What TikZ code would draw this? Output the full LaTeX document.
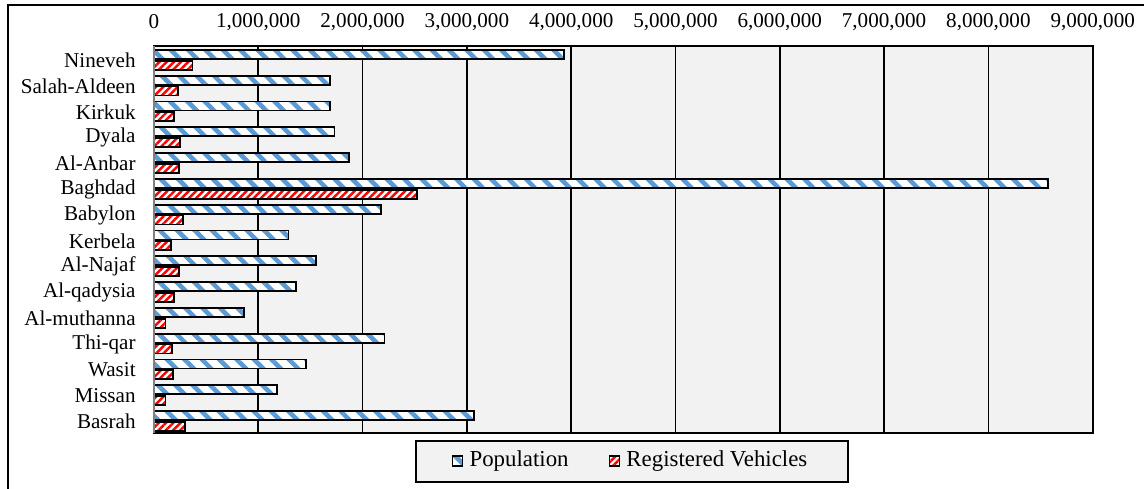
\documentclass[tikz,border=0pt]{standalone}
\usepackage{fontspec}
\setmainfont{Liberation Serif}
\usetikzlibrary{patterns.meta,positioning}
\definecolor{popblue}{HTML}{5B9BD5}
\definecolor{vehred}{HTML}{FF0000}
\definecolor{plotgray}{HTML}{F2F2F2}
\tikzset{
popbar/.style={draw=black, line width=1pt, preaction={fill=white},
 pattern={Lines[angle=-45,distance=7pt,line width=2.6pt]}, pattern color=popblue},
vehbar/.style={draw=black, line width=1pt, preaction={fill=white},
 pattern={Lines[angle=45,distance=2.9pt,line width=1.4pt]}, pattern color=vehred},
catlabel/.style={anchor=east, inner sep=0pt},
ticklabel/.style={inner sep=0pt},
gridline/.style={black, line width=1pt},
keysq/.style={minimum size=0.2cm, inner sep=0pt, line width=0.9pt}
}
\begin{document}
\begin{tikzpicture}[x=2.086cm, y=-0.516cm, font=\fontsize{12}{14}\selectfont]
\useasboundingbox (-1.4765,-1.783) rectangle (9.492,17.132);
% outer frame
\draw[line width=1.1pt] (-1.40,18)--(-1.40,-1.589)--(10,-1.589);
% plot area and grid
\fill[plotgray] (0,0) rectangle (9,15);
\draw[gridline] (1,0)--(1,15) (2,0)--(2,15) (3,0)--(3,15) (4,0)--(4,15)
(5,0)--(5,15) (6,0)--(6,15) (7,0)--(7,15) (8,0)--(8,15);
\draw[gridline] (0,0) rectangle (9,15);
% axis numbers
\node[ticklabel] (t0) at (0,-0.93) {0};
\node[ticklabel] (t1) at (1,-0.93) {1,000,000};
\node[ticklabel] (t2) at (2,-0.93) {2,000,000};
\node[ticklabel] (t3) at (3,-0.93) {3,000,000};
\node[ticklabel] (t4) at (4,-0.93) {4,000,000};
\node[ticklabel] (t5) at (5,-0.93) {5,000,000};
\node[ticklabel] (t6) at (6,-0.93) {6,000,000};
\node[ticklabel] (t7) at (7,-0.93) {7,000,000};
\node[ticklabel] (t8) at (8,-0.93) {8,000,000};
\node[ticklabel] (t9) at (9,-0.93) {9,000,000};
% bars, in millions
\draw[popbar] (0,0.15) rectangle (3.93,0.5); \draw[vehbar] (0,0.57) rectangle (0.37,0.92);
\node[catlabel] (nineveh) at (-0.173,0.55) {Nineveh};
\draw[popbar] (0,1.15) rectangle (1.69,1.5); \draw[vehbar] (0,1.57) rectangle (0.23,1.92);
\node[catlabel] (salah) at (-0.173,1.55) {Salah-Aldeen};
\draw[popbar] (0,2.15) rectangle (1.69,2.5); \draw[vehbar] (0,2.57) rectangle (0.19,2.92);
\node[catlabel] (kirkuk) at (-0.173,2.55) {Kirkuk};
\draw[popbar] (0,3.15) rectangle (1.73,3.5); \draw[vehbar] (0,3.57) rectangle (0.25,3.92);
\node[catlabel] (dyala) at (-0.173,3.55) {Dyala};
\draw[popbar] (0,4.15) rectangle (1.87,4.5); \draw[vehbar] (0,4.57) rectangle (0.24,4.92);
\node[catlabel] (anbar) at (-0.173,4.55) {Al-Anbar};
\draw[popbar] (0,5.15) rectangle (8.57,5.5); \draw[vehbar] (0,5.57) rectangle (2.52,5.92);
\node[catlabel] (baghdad) at (-0.173,5.55) {Baghdad};
\draw[popbar] (0,6.15) rectangle (2.18,6.5); \draw[vehbar] (0,6.57) rectangle (0.28,6.92);
\node[catlabel] (babylon) at (-0.173,6.55) {Babylon};
\draw[popbar] (0,7.15) rectangle (1.29,7.5); \draw[vehbar] (0,7.57) rectangle (0.16,7.92);
\node[catlabel] (kerbela) at (-0.173,7.55) {Kerbela};
\draw[popbar] (0,8.15) rectangle (1.55,8.5); \draw[vehbar] (0,8.57) rectangle (0.24,8.92);
\node[catlabel] (najaf) at (-0.173,8.55) {Al-Najaf};
\draw[popbar] (0,9.15) rectangle (1.36,9.5); \draw[vehbar] (0,9.57) rectangle (0.19,9.92);
\node[catlabel] (qadysia) at (-0.173,9.55) {Al-qadysia};
\draw[popbar] (0,10.15) rectangle (0.86,10.5); \draw[vehbar] (0,10.57) rectangle (0.11,10.92);
\node[catlabel] (muthanna) at (-0.173,10.55) {Al-muthanna};
\draw[popbar] (0,11.15) rectangle (2.21,11.5); \draw[vehbar] (0,11.57) rectangle (0.17,11.92);
\node[catlabel] (thiqar) at (-0.173,11.55) {Thi-qar};
\draw[popbar] (0,12.15) rectangle (1.46,12.5); \draw[vehbar] (0,12.57) rectangle (0.18,12.92);
\node[catlabel] (wasit) at (-0.173,12.55) {Wasit};
\draw[popbar] (0,13.15) rectangle (1.18,13.5); \draw[vehbar] (0,13.57) rectangle (0.11,13.92);
\node[catlabel] (missan) at (-0.173,13.55) {Missan};
\draw[popbar] (0,14.15) rectangle (3.07,14.5); \draw[vehbar] (0,14.57) rectangle (0.30,14.92);
\node[catlabel] (basrah) at (-0.173,14.55) {Basrah};
\draw[gray, line width=0.9pt] (0,0)--(0,15);
% legend
\node[draw, line width=1pt, fill=plotgray, minimum width=8.64cm, minimum height=0.82cm] (legend) at (4.583,16.105) {};
\node[keysq, popbar] (popsq) at (2.91,16.09) {};
\node[right=0pt of popsq, font=\fontsize{13}{15}\selectfont] (poptxt) {Population};
\node[keysq, vehbar] (vehsq) at (4.414,16.09) {};
\node[right=0pt of vehsq, font=\fontsize{13}{15}\selectfont] (vehtxt) {Registered Vehicles};
\end{tikzpicture}
\end{document}
